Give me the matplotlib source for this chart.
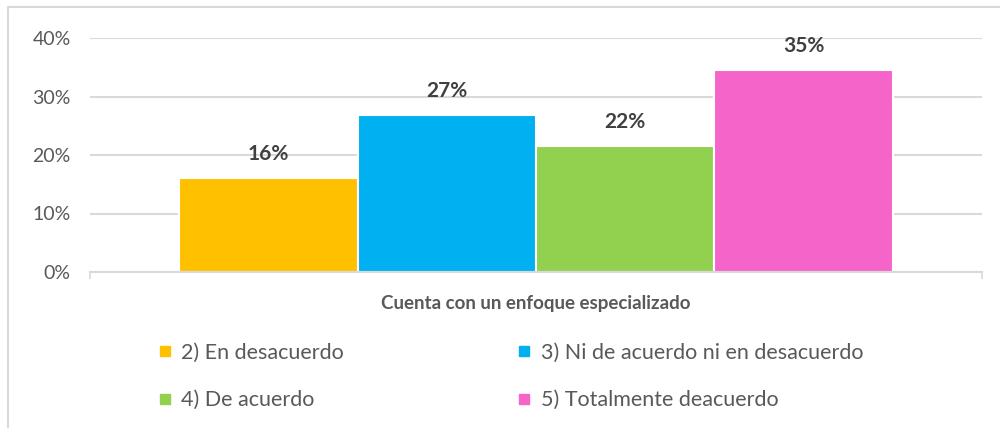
import matplotlib.pyplot as plt
from matplotlib.patches import Rectangle
from matplotlib.lines import Line2D

plt.rcParams['font.family'] = ['Lato', 'DejaVu Sans']

category = "Cuenta con un enfoque especializado"
series = ["2) En desacuerdo", "3) Ni de acuerdo ni en desacuerdo",
          "4) De acuerdo", "5) Totalmente deacuerdo"]
values = [0.161, 0.268, 0.216, 0.346]
colors = ["#FFC000", "#00B0F0", "#92D050", "#F564C9"]
yticks = [0, 0.1, 0.2, 0.3, 0.4]
ytick_labels = ["0%", "10%", "20%", "30%", "40%"]

grey = "#595959"
fig = plt.figure(figsize=(10, 4.28), dpi=100)
ax = fig.add_axes([0.09, 1 - 272/428, 0.892, (272 - 38)/428])

w = 0.2
n = len(values)
for i, (v, c) in enumerate(zip(values, colors)):
    x = (i - (n - 1) / 2) * w
    ax.bar(x, v, width=w, color=c, edgecolor="white", linewidth=1.5, zorder=2)
    ax.annotate("{:.0f}%".format(v * 100), (x, v), xytext=(0, 10),
                textcoords="offset points", ha="center", va="bottom",
                fontsize=15, fontweight="bold", color="#404040")

ax.set_xlim(-0.5, 0.5)
ax.set_ylim(0, 0.4)
ax.set_yticks(yticks)
ax.set_yticklabels(ytick_labels, fontsize=14, color=grey)
ax.tick_params(axis="y", length=0, pad=14)
ax.set_xticks([-0.5, 0.5])
ax.set_xticklabels(["", ""])
ax.tick_params(axis="x", length=5, color="#d9d9d9", width=1.2)
ax.grid(axis="y", color="#d9d9d9", linewidth=1.5, zorder=0)
ax.set_axisbelow(True)
for s in ["top", "right", "left"]:
    ax.spines[s].set_visible(False)
ax.spines["bottom"].set_color("#d9d9d9")
ax.spines["bottom"].set_linewidth(1.5)
ax.set_xlabel(category, fontsize=13.5, fontweight="bold", color=grey, labelpad=8)

# legend is filled column by column, so reorder to read row by row
order = [0, 2, 1, 3]
handles = [Line2D([], [], marker="s", linestyle="", markersize=7,
                  markerfacecolor=colors[i], markeredgecolor=colors[i]) for i in order]
fig.legend(handles, [series[i] for i in order], ncol=2, loc="upper left",
           bbox_to_anchor=(0.148, 1 - 332/428), frameon=False,
           fontsize=15.5, labelcolor=grey, handlelength=0.55,
           handletextpad=0.5, columnspacing=8.1, labelspacing=1.28,
           borderpad=0)

fig.patches.append(Rectangle((0.008, -0.1), 1.1, 1.1 - 7/428, transform=fig.transFigure,
                             fill=False, edgecolor="#d9d9d9", linewidth=1.5))

fig.savefig("out.png", dpi=100, facecolor="white")
